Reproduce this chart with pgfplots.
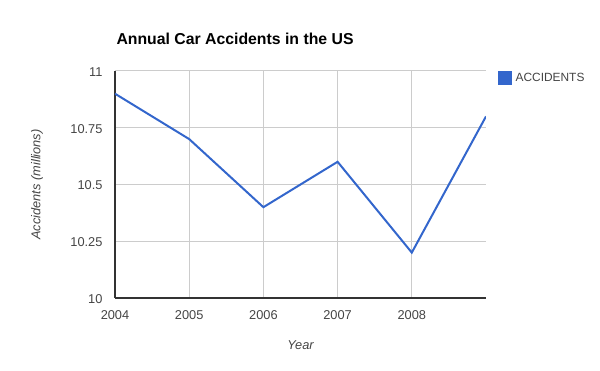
\documentclass[border=0pt]{standalone}
\usepackage{fontspec}
\setmainfont{Liberation Sans}
\usepackage{pgfplots}
\pgfplotsset{compat=1.18}
\definecolor{lineblue}{HTML}{3366CC}
\definecolor{gridgray}{HTML}{CCCCCC}
\definecolor{axisdark}{HTML}{333333}
\definecolor{textgray}{HTML}{444444}
\begin{document}
\begin{tikzpicture}[x=1pt,y=1pt]
\useasboundingbox (0,0) rectangle (600,371);
\begin{axis}[
  at={(115pt,73pt)}, anchor=south west,
  scale only axis, width=371pt, height=227pt,
  xmin=2004, xmax=2009, ymin=10, ymax=11,
  xtick={2004,2005,2006,2007,2008},
  xticklabels={2004,2005,2006,2007,2008},
  ytick={10,10.25,10.5,10.75,11},
  yticklabels={10,10.25,10.5,10.75,11},
  /pgf/number format/assume math mode=true,
  grid=major,
  major grid style={draw=gridgray, line width=1pt},
  axis x line*=bottom, axis y line*=left,
  x axis line style={-, draw=axisdark, line width=1.1pt},
  y axis line style={-, draw=axisdark, line width=1.1pt},
  major tick length=0pt,
  tick style={draw=none},
  ticklabel style={font=\fontsize{12.8}{14}\selectfont, text=textgray},
  xticklabel style={yshift=-9pt},
  yticklabel style={xshift=-9pt, yshift=-1pt},
  xlabel={Year},
  ylabel={Accidents (millions)},
  xlabel style={at={(axis description cs:0.5,0)}, anchor=center, yshift=-47pt,
    font=\fontsize{12.8}{14}\selectfont\itshape, text=textgray},
  ylabel style={at={(axis description cs:-0.2102,0.5)}, anchor=center, rotate=0,
    font=\fontsize{12.8}{14}\selectfont\itshape, text=textgray},
  title={Annual Car Accidents in the US},
  title style={at={(axis description cs:0,1)}, anchor=base west, yshift=20.5pt, xshift=-2pt,
    font=\fontsize{15.8}{18}\selectfont\bfseries, text=black},
  legend style={at={(axis description cs:1,1)}, anchor=north west, xshift=12pt, yshift=0pt,
    draw=none, fill=none, inner sep=0pt,
    font=\fontsize{11.9}{14}\selectfont, text=textgray},
  legend cell align=left,
  legend image code/.code={\fill[lineblue] (0pt,-6pt) rectangle (12pt,6pt);},
]
\addplot[lineblue, line width=2pt] coordinates {
  (2004,10.9) (2005,10.7) (2006,10.4) (2007,10.6) (2008,10.2) (2009,10.8)
};
\addlegendentry{\hspace{1.5pt}ACCIDENTS}
\end{axis}
\end{tikzpicture}
\end{document}
